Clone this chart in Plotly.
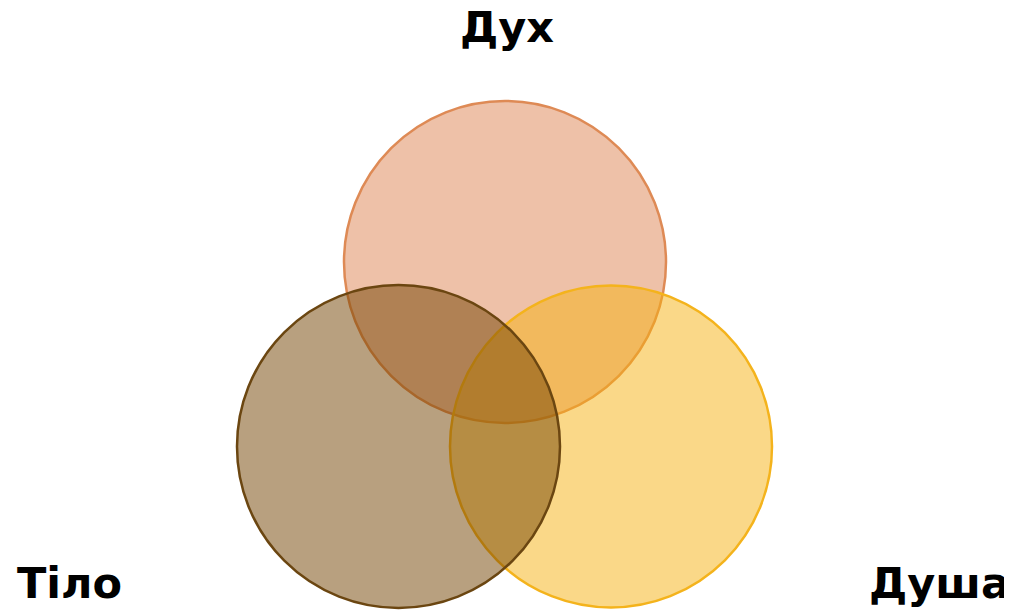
import plotly.graph_objects as go

# Set names, centres and radii (in chart units)
sets = ["Дух", "Душа", "Тіло"]
center_x = [505, 611, 398.5]
center_y = [262, 446.5, 446.5]
radius = [161, 161, 161.5]
fill_colors = ["rgba(221,132,82,0.5)", "rgba(245,177,17,0.5)", "rgba(113,65,0,0.5)"]
line_colors = ["#DE8A55", "#F4B31C", "#6B4611"]

# Label positions
label_text = ["Дух", "Тіло", "Душа"]
label_x = [507, 69, 939]
label_y = [27, 583, 583]

# page offset (browser body margin)
OFF = 8

fig = go.Figure()
fig.add_trace(go.Scatter(x=[OFF, 1012 + OFF], y=[OFF, 611 + OFF], mode="markers",
                         marker=dict(opacity=0), hoverinfo="skip", showlegend=False))

for cx, cy, r, fc, lc in zip(center_x, center_y, radius, fill_colors, line_colors):
    fig.add_shape(type="circle", xref="x", yref="y",
                  x0=cx - r, x1=cx + r, y0=cy - r, y1=cy + r,
                  fillcolor=fc, line=dict(color=lc, width=2.5), layer="above")

for t, x, y in zip(label_text, label_x, label_y):
    fig.add_annotation(x=x, y=y, xref="x", yref="y", text="<b>" + t + "</b>",
                       showarrow=False, xanchor="center", yanchor="middle",
                       font=dict(family="DejaVu Sans", size=43, color="#000000"))

fig.update_xaxes(range=[OFF, 1012 + OFF], visible=False, fixedrange=True)
fig.update_yaxes(range=[611 + OFF, OFF], visible=False, fixedrange=True)
fig.update_layout(width=1012, height=611, margin=dict(l=0, r=0, t=0, b=0),
                  plot_bgcolor="white", paper_bgcolor="white", showlegend=False)

fig.write_html("out.html")
